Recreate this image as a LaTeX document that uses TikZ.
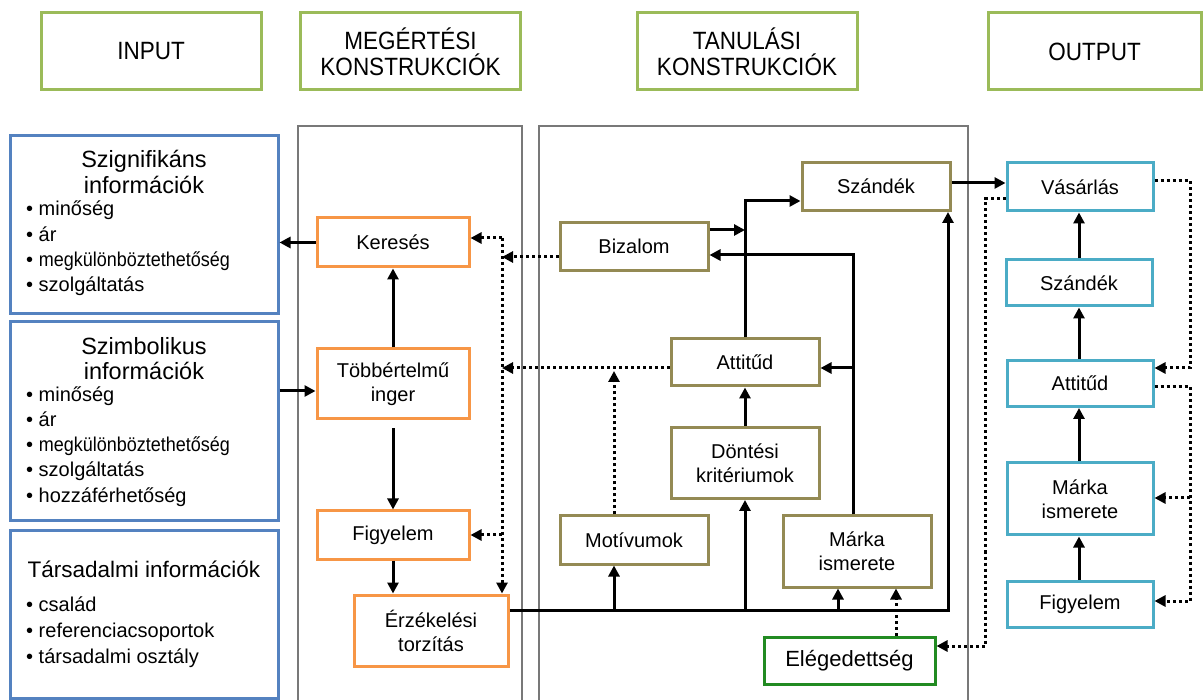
\documentclass[tikz,border=0pt]{standalone}
\usepackage{fontspec}
\setmainfont{Liberation Sans}
\newfontfamily\hdrfont[FakeStretch=0.9]{Liberation Sans}
\usetikzlibrary{arrows.meta}

\definecolor{hdrgreen}{RGB}{155,187,89}
\definecolor{inblue}{RGB}{84,130,192}
\definecolor{orng}{RGB}{247,150,70}
\definecolor{olive}{RGB}{148,138,84}
\definecolor{cyanbox}{RGB}{75,172,198}
\definecolor{elegreen}{RGB}{34,139,34}
\definecolor{framegray}{RGB}{120,120,120}

\newcommand{\narrowword}[1]{{\hdrfont #1}}

\tikzset{
  hdr/.style={draw=hdrgreen, line width=3pt, minimum width=220pt, minimum height=77pt,
    align=center, inner sep=0pt, font=\hdrfont\fontsize{25}{26}\selectfont},
  inbox/.style={draw=inblue, line width=3pt, minimum width=268pt, inner sep=0pt},
  intitle/.style={align=center, inner sep=0pt, font=\fontsize{23.5}{25.5}\selectfont},
  inlist/.style={align=left, inner sep=0pt, anchor=west, font=\fontsize{20}{25.2}\selectfont},
  mbox/.style={draw=orng, line width=3pt, minimum width=152pt, align=center, inner sep=0pt,
    font=\fontsize{20}{24}\selectfont},
  tbox/.style={draw=olive, line width=3pt, minimum width=148pt, align=center, inner sep=0pt,
    font=\fontsize{20}{24}\selectfont},
  obox/.style={draw=cyanbox, line width=3pt, minimum width=146pt, align=center, inner sep=0pt,
    font=\fontsize{20}{24}\selectfont},
  frameline/.style={draw=framegray, line width=1.4pt},
  arr/.style={line width=3pt, -{Triangle[length=11pt,width=11pt]}},
  dotarr/.style={line width=3pt, dash pattern=on 3pt off 3pt, -{Triangle[length=11pt,width=11pt]}},
}

\begin{document}
\begin{tikzpicture}[x=1pt, y=-1pt]
\useasboundingbox (0,0) rectangle (1203,700);

% column headings
\node[hdr] (hIn)  at (151,51.5)  {INPUT};
\node[hdr] (hMeg) at (410.5,51.5) {MEGÉRTÉSI\\KONSTRUKCIÓK};
\node[hdr] (hTan) at (747,51.5)  {TANULÁSI\\KONSTRUKCIÓK};
\node[hdr, minimum width=213pt] (hOut) at (1094.5,51.5) {OUTPUT};

% column frames (open at the bottom)
\draw[frameline] (298,700) -- (298,126) -- (522,126) -- (522,700);
\draw[frameline] (539,700) -- (539,126) -- (968,126) -- (968,700);

% input boxes
\node[inbox, minimum height=178pt] (sig) at (144,225) {};
\node[intitle] (sigT) at (144,172) {Szignifikáns\\információk};
\node[inlist] (sigL) at (26,248.5) {• minőség\\• ár\\• \narrowword{megkülönböztethetőség}\\• szolgáltatás};

\node[inbox, minimum height=199pt] (sym) at (144,421.5) {};
\node[intitle] (symT) at (144,358.5) {Szimbolikus\\információk};
\node[inlist] (symL) at (26,446.5) {• minőség\\• ár\\• \narrowword{megkülönböztethetőség}\\• szolgáltatás\\• hozzáférhetőség};

\node[inbox, minimum height=167pt] (tar) at (144,614.5) {};
\node[intitle, font=\fontsize{22.5}{25.5}\selectfont] (tarT) at (144,569) {Társadalmi információk};
\node[inlist, font=\fontsize{20}{26}\selectfont] (tarL) at (26,632) {• család\\• referenciacsoportok\\• társadalmi osztály};

% comprehension constructs
\node[mbox, minimum height=49pt] (ker) at (393,242.5) {Keresés};
\node[mbox, minimum height=70pt] (tob) at (393,384) {Többértelmű\\inger};
\node[mbox, minimum height=48pt] (fig) at (393,535) {Figyelem};
\node[mbox, minimum width=154pt, minimum height=71pt] (erz) at (431,630.5) {Érzékelési\\torzítás};

% learning constructs
\node[tbox, minimum height=48pt] (szd) at (876,186.5) {Szándék};
\node[tbox, minimum height=48pt] (biz) at (634,246.5) {Bizalom};
\node[tbox, minimum height=47pt] (att) at (745,362.5) {Attitűd};
\node[tbox, minimum height=71pt] (don) at (745,463) {Döntési\\kritériumok};
\node[tbox, minimum height=48pt] (mot) at (634,540) {Motívumok};
\node[tbox, minimum height=71pt] (mar) at (857,551.5) {Márka\\ismerete};
\node[draw=elegreen, line width=3pt, minimum width=171pt, minimum height=47pt, inner sep=0pt,
  font=\fontsize{22}{26}\selectfont] (ele) at (849.5,660.5) {Elégedettség};

% output boxes
\node[obox, minimum height=48pt] (vas) at (1080,187) {Vásárlás};
\node[obox, minimum height=46pt] (osz) at (1079,283) {Szándék};
\node[obox, minimum height=46pt] (oat) at (1080,383.5) {Attitűd};
\node[obox, minimum height=72pt] (oma) at (1080,499) {Márka\\ismerete};
\node[obox, minimum height=46pt] (ofi) at (1080,604) {Figyelem};

% comprehension connectors
\draw[arr] (ker.west) -- (ker.west -| sig.east);
\draw[arr] (sym.east |- 0,391) -- (tob.west |- 0,391);
\draw[arr] (tob.north) -- (ker.south);
\draw[arr] ([yshift=-8pt]tob.south) -- (fig.north);
\draw[arr] (fig.south) -- (fig.south |- erz.north);

% feedback into the comprehension column
\coordinate (dv) at (502,238);
\draw[dotarr] (dv) -- (ker.east |- dv);
\draw[dotarr] (dv) -- (dv |- erz.north);
\draw[dotarr] (biz.west |- 0,257) -- (dv |- 0,257);
\draw[dotarr] (att.west |- 0,368) -- (dv |- 0,368);
\draw[dotarr] (dv |- 0,535) -- (fig.east |- 0,535);
\draw[dotarr] (mot.north -| 614,0) -- (614,371);

% learning connectors
\draw[arr] (erz.east |- 0,610) -| (szd.south -| 948,0);
\draw[arr] (614,610) -- (mot.south -| 614,0);
\draw[arr] (745,610) -- (don.south);
\draw[arr] (838,610) -- (mar.south -| 838,0);
\draw[dotarr] (ele.north -| 896,0) -- (mar.south -| 896,0);
\draw[arr] (don.north) -- (att.south);
\draw[arr] (att.north) |- (szd.west |- 0,201);
\draw[arr] (biz.east |- 0,230) -- (745,230);
\draw[arr] (mar.north -| 853,0) |- (biz.east |- 0,255);
\draw[arr] (853,368) -- (att.east |- 0,368);
\draw[arr] (szd.east |- 0,183) -- (vas.west |- 0,183);

% output connectors
\draw[arr] (ofi.north -| 1079,0) -- (oma.south -| 1079,0);
\draw[arr] (oma.north -| 1079,0) -- (oat.south -| 1079,0);
\draw[arr] (oat.north -| 1079,0) -- (osz.south -| 1079,0);
\draw[arr] (osz.north -| 1079,0) -- (vas.south -| 1079,0);

\draw[dotarr] (vas.east |- 0,181) -- (1190,181) -- (1190,368) -- (oat.east |- 0,368);
\draw[dotarr] (oat.east |- 0,387) -- (1190,387) -- (1190,601) -- (ofi.east |- 0,601);
\draw[dotarr] (1190,498) -- (oma.east |- 0,498);
\draw[dotarr] (vas.west |- 0,199) -- (985,199) -- (985,646) -- (ele.east |- 0,646);
\end{tikzpicture}
\end{document}
